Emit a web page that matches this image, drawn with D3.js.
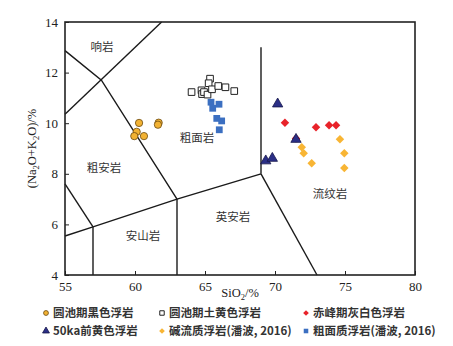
<!DOCTYPE html>
<html>
<head>
<meta charset="utf-8">
<script src="https://cdn.jsdelivr.net/npm/d3@7/dist/d3.min.js"></script>
<style>
  html, body { margin: 0; padding: 0; background: #ffffff; }
  svg { display: block; }
</style>
</head>
<body>
<svg id="chart" width="453" height="346"></svg>
<script>
// TAS (total alkali vs. silica) diagram with pumice samples

const xTicks = [55, 60, 65, 70, 75, 80];
const yTicks = [4, 6, 8, 10, 12, 14];

// field boundaries, [SiO2, Na2O+K2O]
const boundaries = [
  [[55, 12.87], [57.6, 11.7], [63, 7]],
  [[55, 10.35], [61.9, 14]],
  [[55, 7.6], [57, 5.9]],
  [[55, 5.54], [57, 5.9], [63, 7], [69, 8]],
  [[57, 4], [57, 5.9]],
  [[63, 4], [63, 7]],
  [[69, 8], [69, 13]],
  [[69, 8], [73, 4]]
];

const fieldNames = ["响岩", "粗面岩", "粗安岩", "安山岩", "英安岩", "流纹岩"];

// sample series, [SiO2, Na2O+K2O]
const yuanchiBlack = [[60.29, 10.01], [60.12, 9.66], [59.95, 9.49], [60.64, 9.49], [61.69, 10.02], [61.64, 9.94]];
const yuanchiYellow = [[65.36, 11.76], [65.26, 11.58], [64.04, 11.23], [64.75, 11.30], [64.79, 11.15], [64.93, 11.23],
                       [65.18, 11.13], [65.50, 11.34], [65.95, 11.47], [66.46, 11.42], [67.09, 11.27]];
const chifengGrey = [[70.71, 10.02], [71.50, 9.40], [72.93, 9.84], [73.86, 9.92], [74.36, 9.92]];
const before50ka = [[70.19, 10.76], [71.50, 9.36], [69.34, 8.51], [69.81, 8.61]];
const comenditic = [[71.91, 9.05], [72.05, 8.81], [72.62, 8.42], [74.64, 9.37], [74.95, 8.81], [74.95, 8.23]];
const trachytic = [[65.43, 10.83], [66.00, 10.75], [65.55, 10.59], [65.84, 10.19], [66.19, 10.09], [66.02, 9.74]];

const seriesNames = ["圆池期黑色浮岩", "圆池期土黄色浮岩", "赤峰期灰白色浮岩",
                     "50ka前黄色浮岩", "碱流质浮岩(潘波, 2016)", "粗面质浮岩(潘波, 2016)"];

// ---- layout ----
const svg = d3.select("#chart");
const plot = { left: 65, right: 415, top: 22, bottom: 275 };
const x = d3.scaleLinear().domain([55, 80]).range([plot.left, plot.right]);
const y = d3.scaleLinear().domain([4, 14]).range([plot.bottom, plot.top]);

const serif = "'Liberation Serif', 'DejaVu Serif', serif";
const cjk = "'Noto Sans CJK SC', 'Noto Sans', sans-serif";

// square-on-point diamond
const symbolRhomb = {
  draw(ctx, size) {
    const r = Math.sqrt(size / 2);
    ctx.moveTo(0, -r); ctx.lineTo(r, 0); ctx.lineTo(0, r); ctx.lineTo(-r, 0); ctx.closePath();
  }
};

const styles = [
  { shape: d3.symbolCircle, size: 42, fill: "#f2b233", stroke: "#6b4a10", sw: 0.8 },
  { shape: d3.symbolSquare, size: 44, fill: "#ffffff", stroke: "#222222", sw: 1 },
  { shape: symbolRhomb, size: 36, fill: "#e8232a", stroke: "none", sw: 0 },
  { shape: d3.symbolTriangle, size: 46, fill: "#2b2f86", stroke: "#15174a", sw: 0.8 },
  { shape: symbolRhomb, size: 36, fill: "#f8b534", stroke: "none", sw: 0 },
  { shape: d3.symbolSquare, size: 46, fill: "#3b6fc1", stroke: "none", sw: 0 }
];
const seriesData = [yuanchiBlack, yuanchiYellow, chifengGrey, before50ka, comenditic, trachytic];
const drawOrder = [0, 1, 5, 2, 4, 3];

// axes with inward ticks
const xAxis = d3.axisBottom(x).tickValues(xTicks).tickSizeInner(-4).tickSizeOuter(0).tickPadding(7);
const yAxis = d3.axisLeft(y).tickValues(yTicks).tickSizeInner(-4).tickSizeOuter(0).tickPadding(7);

const gx = svg.append("g").attr("transform", `translate(0,${plot.bottom})`).call(xAxis);
const gy = svg.append("g").attr("transform", `translate(${plot.left},0)`).call(yAxis);
[gx, gy].forEach(g => {
  g.select(".domain").remove();
  g.selectAll(".tick line").attr("stroke", "#222").attr("stroke-width", 1);
  g.selectAll(".tick text").attr("fill", "#222").style("font-family", serif).style("font-size", "13px");
});

// field boundaries
const line = d3.line().x(d => x(d[0])).y(d => y(d[1]));
svg.append("g").selectAll("path").data(boundaries).join("path")
  .attr("d", line).attr("fill", "none").attr("stroke", "#1a1a1a").attr("stroke-width", 1.4);

// frame
svg.append("rect")
  .attr("x", plot.left).attr("y", plot.top)
  .attr("width", plot.right - plot.left).attr("height", plot.bottom - plot.top)
  .attr("fill", "none").attr("stroke", "#222").attr("stroke-width", 1.6);

// field names
const fieldAnchors = [[57.64, 13.01], [64.43, 9.42], [57.79, 8.23], [60.57, 5.54], [67.0, 6.29], [73.93, 7.2]];
svg.append("g").selectAll("text").data(fieldNames).join("text")
  .attr("x", (d, i) => x(fieldAnchors[i][0]))
  .attr("y", (d, i) => y(fieldAnchors[i][1]))
  .attr("dy", "0.35em").attr("text-anchor", "middle")
  .attr("fill", "#333").style("font-family", cjk).style("font-size", "11.5px")
  .text(d => d);

// sample points
drawOrder.forEach(i => {
  const st = styles[i];
  const sym = d3.symbol().type(st.shape).size(st.size);
  svg.append("g").selectAll("path").data(seriesData[i]).join("path")
    .attr("transform", d => `translate(${x(d[0])},${y(d[1])})`)
    .attr("d", sym)
    .attr("fill", st.fill).attr("stroke", st.stroke).attr("stroke-width", st.sw);
});

// axis titles
const xt = svg.append("text").attr("x", (plot.left + plot.right) / 2).attr("y", 297)
  .attr("text-anchor", "middle").attr("fill", "#222")
  .style("font-family", serif).style("font-size", "12.5px");
xt.append("tspan").text("SiO");
xt.append("tspan").text("2").attr("font-size", "8.5px").attr("dy", 3);
xt.append("tspan").text("/%").attr("dy", -3);

const yt = svg.append("text")
  .attr("transform", `translate(36,${(plot.top + plot.bottom) / 2}) rotate(-90)`)
  .attr("text-anchor", "middle").attr("fill", "#222")
  .style("font-family", serif).style("font-size", "12.5px");
yt.append("tspan").text("(Na");
yt.append("tspan").text("2").attr("font-size", "8.5px").attr("dy", 3);
yt.append("tspan").text("O+K").attr("dy", -3);
yt.append("tspan").text("2").attr("font-size", "8.5px").attr("dy", 3);
yt.append("tspan").text("O)/%").attr("dy", -3);

// legend
const legCols = [46, 162, 306];
const legRows = [313, 331];
const leg = svg.append("g").selectAll("g").data(seriesNames).join("g")
  .attr("transform", (d, i) => `translate(${legCols[i % 3]},${legRows[Math.floor(i / 3)]})`);
leg.append("path")
  .attr("d", (d, i) => d3.symbol().type(styles[i].shape).size(styles[i].size * 0.45)())
  .attr("fill", (d, i) => styles[i].fill)
  .attr("stroke", (d, i) => styles[i].stroke)
  .attr("stroke-width", (d, i) => styles[i].sw);
leg.append("text").attr("x", 7).attr("dy", "0.36em")
  .attr("fill", "#333").style("font-family", cjk).style("font-size", "11.5px").style("font-weight", "bold")
  .text(d => d);
</script>
</body>
</html>
